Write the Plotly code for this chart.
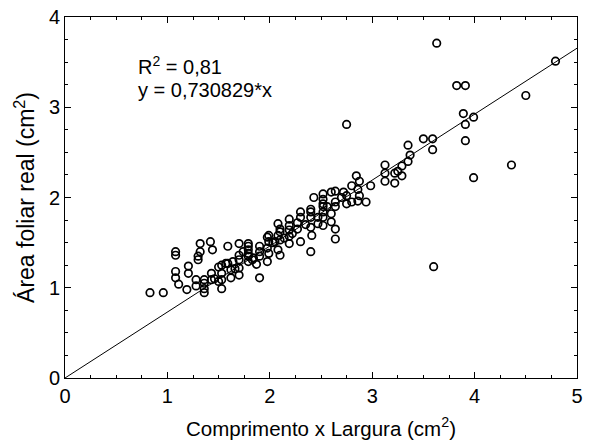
import plotly.graph_objects as go

# Comprimento x Largura (cm2)
x_vals = [
    3.63, 3.825, 3.91, 4.79, 4.50, 3.89, 3.99, 3.91, 3.91, 4.36, 3.99, 3.60, 2.75,
    3.50, 3.59, 3.59, 3.35, 3.37, 3.35, 3.29, 3.125, 3.125, 3.22, 3.25, 3.29, 3.125,
    3.22, 2.985, 2.845, 2.875, 2.80, 2.86, 2.875, 2.72, 2.75, 2.75, 2.80, 2.86, 2.94,
    2.64, 2.60, 2.52, 2.52, 2.43, 2.52, 2.64, 2.64, 2.52, 2.40, 2.30, 2.40, 2.52,
    2.60, 2.30, 2.40, 2.47, 2.52, 2.60, 2.47, 2.52, 2.19, 2.27, 2.19, 2.27, 2.40,
    2.64, 2.64, 2.41, 2.40, 2.30, 2.19, 2.19, 2.19, 2.10, 2.08, 2.10, 2.08, 2.10,
    2.08, 2.10, 1.99, 1.976, 1.99, 2.05, 1.976, 1.99, 1.976, 1.90, 1.90, 1.90, 1.87,
    1.90, 1.79, 1.79, 1.79, 1.79, 1.79, 1.79, 1.70, 1.70, 1.70, 1.70, 1.70, 1.64,
    1.59, 1.59, 1.62, 1.62, 1.53, 1.50, 1.53, 1.53, 1.53, 1.50, 1.43, 1.43, 1.36,
    1.36, 1.36, 1.36, 1.28, 1.28, 1.42, 1.44, 1.32, 1.32, 1.30, 1.30, 1.205, 1.205,
    1.19, 1.08, 1.08, 1.08, 1.08, 1.11, 0.83, 0.96,
    2.35, 2.22, 2.03, 1.84, 1.66, 1.46, 2.56, 2.70, 1.57, 1.74, 1.83, 2.14,
]
# Área foliar real (cm2)
y_vals = [
    3.71, 3.24, 3.24, 3.51, 3.13, 2.93, 2.89, 2.81, 2.63, 2.36, 2.22, 1.233, 2.81,
    2.65, 2.65, 2.53, 2.58, 2.47, 2.40, 2.35, 2.36, 2.27, 2.27, 2.29, 2.24, 2.18,
    2.16, 2.13, 2.24, 2.18, 2.13, 2.09, 2.02, 2.06, 2.02, 1.93, 1.95, 1.96, 1.95,
    2.07, 2.06, 2.04, 1.98, 2.00, 1.93, 1.95, 1.90, 1.90, 1.87, 1.84, 1.84, 1.84,
    1.82, 1.78, 1.78, 1.78, 1.78, 1.73, 1.71, 1.69, 1.76, 1.72, 1.69, 1.65, 1.67,
    1.65, 1.54, 1.58, 1.40, 1.51, 1.64, 1.57, 1.49, 1.65, 1.71, 1.62, 1.58, 1.53,
    1.42, 1.36, 1.58, 1.56, 1.51, 1.51, 1.44, 1.38, 1.29, 1.46, 1.40, 1.35, 1.26,
    1.11, 1.49, 1.46, 1.42, 1.38, 1.35, 1.29, 1.49, 1.36, 1.31, 1.22, 1.14, 1.29,
    1.46, 1.27, 1.20, 1.11, 1.25, 1.23, 1.16, 1.09, 0.99, 1.07, 1.16, 1.09, 1.09,
    1.05, 0.99, 0.945, 1.09, 1.02, 1.51, 1.42, 1.49, 1.40, 1.35, 1.31, 1.24, 1.16,
    0.98, 1.40, 1.36, 1.18, 1.11, 1.04, 0.945, 0.945,
    1.70, 1.60, 1.50, 1.33, 1.21, 1.10, 1.90, 2.00, 1.27, 1.40, 1.31, 1.55,
]

slope = 0.730829
line_x = [0, 5]
line_y = [slope * v for v in line_x]

r2_text = "R<sup>2</sup> = 0,81"
eq_text = "y = 0,730829*x"
x_title = "Comprimento x Largura (cm<sup>2</sup>)"
y_title = "Área foliar real (cm<sup>2</sup>)"
x_ticks = [0, 1, 2, 3, 4, 5]
y_ticks = [0, 1, 2, 3, 4]

FONT = "Liberation Sans, Arial, sans-serif"

fig = go.Figure()
fig.add_trace(go.Scatter(
    x=line_x, y=line_y, mode="lines",
    line=dict(color="black", width=1), hoverinfo="skip", showlegend=False,
))
fig.add_trace(go.Scatter(
    x=x_vals, y=y_vals, mode="markers",
    marker=dict(symbol="circle-open", size=7.5, color="black", line=dict(width=1.7, color="black")),
    showlegend=False,
))

axis_common = dict(
    showgrid=False, zeroline=False, showline=True, linecolor="black", linewidth=1,
    mirror="ticks", ticks="inside", ticklen=6, tickwidth=1, tickcolor="black",
    tickfont=dict(family=FONT, size=20, color="black"), automargin=False,
    minor=dict(ticks="inside", ticklen=3, tickwidth=1, tickcolor="black", dtick=0.25),
)

fig.update_layout(
    width=603, height=444,
    margin=dict(l=65, r=26, t=17, b=66),
    paper_bgcolor="white", plot_bgcolor="white",
    font=dict(family=FONT, color="black"),
    xaxis=dict(
        range=[0, 5], tickvals=x_ticks, ticktext=[str(v) for v in x_ticks],
        title=dict(text=x_title, font=dict(family=FONT, size=20.5, color="black"), standoff=15),
        **axis_common,
    ),
    yaxis=dict(
        range=[0, 4], tickvals=y_ticks, ticktext=[str(v) for v in y_ticks],
        title=dict(text=y_title, font=dict(family=FONT, size=23, color="black"), standoff=7),
        **axis_common,
    ),
    annotations=[
        dict(x=0.69, y=3.46, xref="x", yref="y", text=r2_text, showarrow=False,
             xanchor="left", yanchor="middle", font=dict(family=FONT, size=20, color="black")),
        dict(x=0.69, y=3.19, xref="x", yref="y", text=eq_text, showarrow=False,
             xanchor="left", yanchor="middle", font=dict(family=FONT, size=20, color="black")),
    ],
)

fig.write_html(
    "out.html",
    config={"displayModeBar": False},
    post_script="document.body.style.margin='0';document.body.style.padding='0';document.body.style.overflow='hidden';",
)
